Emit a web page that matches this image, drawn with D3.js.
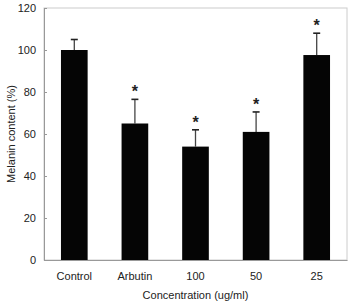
<!DOCTYPE html>
<html><head><meta charset="utf-8">
<script src="https://cdn.jsdelivr.net/npm/d3@7"></script>
<style>body{margin:0;background:#fff}svg{display:block}text{font-family:"Liberation Sans",Arial,sans-serif;fill:#222}</style>
</head><body>
<script>
const categories = ["Control","Arbutin","100","50","25"];
const values = [100, 65, 54, 61, 97.6];
const errors = [5, 11.5, 8, 9.5, 10.4];
const significant = [false, true, true, true, true];
const yTicks = [0,20,40,60,80,100,120];

const W=353,H=304, m={l:44,r:6,t:8,b:44};
const svg=d3.select("body").append("svg").attr("width",W).attr("height",H);
const x=d3.scaleBand().domain(categories).range([m.l,W-m.r]).paddingInner(0.56).paddingOuter(0.28);
const y=d3.scaleLinear().domain([0,120]).range([H-m.b,m.t]);

// frame
svg.append("rect").attr("x",m.l).attr("y",m.t).attr("width",W-m.r-m.l).attr("height",H-m.b-m.t)
  .attr("fill","none").attr("stroke","#ccc").attr("stroke-width",1);

const ya=svg.append("g").attr("transform",`translate(${m.l},0)`)
  .call(d3.axisLeft(y).tickValues(yTicks).tickSize(-3).tickPadding(8));
ya.select(".domain").attr("stroke","#999");
ya.selectAll(".tick line").attr("stroke","#999");
ya.selectAll("text").style("font-size","11px").attr("fill","#222");

const xa=svg.append("g").attr("transform",`translate(0,${H-m.b})`)
  .call(d3.axisBottom(x).tickSize(0).tickPadding(12));
xa.select(".domain").attr("stroke","#999");
xa.selectAll("text").style("font-size","11px").attr("fill","#222");

// error bars
const eb=svg.append("g");
categories.forEach((c,i)=>{
  const cx=x(c)+x.bandwidth()/2;
  eb.append("line").attr("x1",cx).attr("x2",cx).attr("y1",y(values[i])).attr("y2",y(values[i]+errors[i]))
    .attr("stroke","#444").attr("stroke-width",1.3);
  eb.append("line").attr("x1",cx-3.5).attr("x2",cx+3.5).attr("y1",y(values[i]+errors[i])).attr("y2",y(values[i]+errors[i]))
    .attr("stroke","#222").attr("stroke-width",1.6);
  if(significant[i]) eb.append("text").attr("x",cx).attr("y",y(values[i]+errors[i])-2)
    .attr("text-anchor","middle").style("font-size","16px").style("font-weight","bold").attr("fill","#111").text("*");
});

svg.append("g").selectAll("rect").data(categories).join("rect")
  .attr("x",d=>x(d)).attr("width",x.bandwidth())
  .attr("y",(d,i)=>y(values[i])).attr("height",(d,i)=>y(0)-y(values[i]))
  .attr("fill","#050505");

svg.append("text").attr("transform",`translate(15,${(m.t+H-m.b)/2}) rotate(-90)`)
  .attr("text-anchor","middle").style("font-size","11px").text("Melanin content (%)");
svg.append("text").attr("x",(m.l+W-m.r)/2).attr("y",299).attr("text-anchor","middle")
  .style("font-size","11px").text("Concentration (ug/ml)");
</script>
</body></html>
